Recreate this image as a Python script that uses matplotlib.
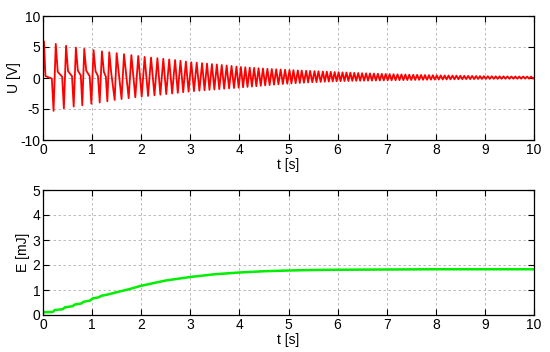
import matplotlib
matplotlib.use("Agg")
import matplotlib.pyplot as plt

plt.rcParams['font.family'] = ['Liberation Sans', 'DejaVu Sans']
plt.rcParams['axes.unicode_minus'] = False

# ---- Voltage U(t): extrema ----
peak_t = [0.02, 0.26, 0.47, 0.67, 0.84, 1.03, 1.20, 1.35, 1.50, 1.65, 1.80, 1.94,
          2.07, 2.20, 2.33, 2.45, 2.57, 2.69, 2.80, 2.91, 3.02, 3.13, 3.24, 3.34,
          3.44, 3.54, 3.64, 3.74, 3.84, 3.94, 4.03, 4.12, 4.21, 4.30, 4.39, 4.48,
          4.57, 4.66, 4.75, 4.84, 4.93, 5.02, 5.10, 5.19, 5.27, 5.36, 5.44, 5.53,
          5.61, 5.70, 5.78, 5.86, 5.94, 6.02, 6.10, 6.18, 6.26, 6.34, 6.42, 6.50,
          6.58, 6.66, 6.74, 6.82, 6.90, 6.98, 7.06, 7.14, 7.22, 7.30, 7.38, 7.46,
          7.54, 7.62, 7.70, 7.78, 7.86, 7.94, 8.02, 8.10, 8.18, 8.26, 8.34, 8.42,
          8.50, 8.58, 8.66, 8.74, 8.82, 8.90, 8.98, 9.06, 9.14, 9.22, 9.30, 9.38,
          9.46, 9.54, 9.62, 9.70, 9.78, 9.86, 9.94]
peak_u = [5.9, 5.5, 5.2, 4.9, 4.7, 4.5, 4.3, 4.15, 4.0, 3.85, 3.7, 3.55,
          3.4, 3.3, 3.2, 3.1, 3.0, 2.9, 2.78, 2.66, 2.55, 2.48, 2.4, 2.33,
          2.25, 2.18, 2.1, 2.02, 1.95, 1.85, 1.78, 1.73, 1.68, 1.63, 1.58, 1.53,
          1.49, 1.45, 1.41, 1.37, 1.33, 1.30, 1.27, 1.23, 1.2, 1.17, 1.14, 1.11,
          1.08, 1.05, 1.02, 0.99, 0.96, 0.93, 0.9, 0.88, 0.86, 0.83, 0.81, 0.78,
          0.76, 0.74, 0.72, 0.69, 0.67, 0.65, 0.63, 0.61, 0.59, 0.57, 0.56, 0.54,
          0.52, 0.51, 0.49, 0.48, 0.46, 0.45, 0.43, 0.42, 0.41, 0.4, 0.39, 0.38,
          0.36, 0.35, 0.34, 0.33, 0.32, 0.31, 0.3, 0.29, 0.29, 0.28, 0.27, 0.27,
          0.26, 0.25, 0.25, 0.24, 0.24, 0.23, 0.23]
trough_t = [0.215, 0.425, 0.625, 0.80, 0.985, 1.155, 1.31, 1.46, 1.60, 1.745, 1.88,
            2.01, 2.14, 2.27, 2.39, 2.51, 2.63, 2.745, 2.855, 2.965, 3.075, 3.185,
            3.29, 3.39, 3.49, 3.59, 3.69, 3.79, 3.89, 3.985, 4.075, 4.165, 4.255,
            4.345, 4.435, 4.525, 4.615, 4.705, 4.795, 4.885, 4.975, 5.06, 5.145,
            5.23, 5.315, 5.40, 5.485, 5.57, 5.655, 5.74, 5.82, 5.90, 5.98, 6.06,
            6.14, 6.22, 6.30, 6.38, 6.46, 6.54, 6.62, 6.70, 6.78, 6.86, 6.94, 7.02,
            7.10, 7.18, 7.26, 7.34, 7.42, 7.50, 7.58, 7.66, 7.74, 7.82, 7.90, 7.98,
            8.06, 8.14, 8.22, 8.30, 8.38, 8.46, 8.54, 8.62, 8.70, 8.78, 8.86, 8.94,
            9.02, 9.10, 9.18, 9.26, 9.34, 9.42, 9.50, 9.58, 9.66, 9.74, 9.82, 9.90,
            9.98]
trough_u = [-5.3, -4.9, -4.6, -4.4, -4.15, -3.95, -3.75, -3.55, -3.4, -3.25, -3.12,
            -3.0, -2.9, -2.8, -2.7, -2.6, -2.5, -2.4, -2.3, -2.2, -2.12, -2.05,
            -1.98, -1.92, -1.86, -1.8, -1.74, -1.68, -1.62, -1.56, -1.5, -1.44, -1.38,
            -1.32, -1.26, -1.2, -1.14, -1.08, -1.02, -0.97, -0.92, -0.88, -0.84,
            -0.8, -0.76, -0.72, -0.69, -0.66, -0.63, -0.6, -0.57, -0.55, -0.53, -0.51,
            -0.49, -0.48, -0.47, -0.46, -0.45, -0.44, -0.43, -0.42, -0.41, -0.40, -0.39, -0.38,
            -0.37, -0.36, -0.35, -0.34, -0.33, -0.32, -0.31, -0.30, -0.29, -0.28, -0.27, -0.26,
            -0.25, -0.24, -0.23, -0.22, -0.21, -0.20, -0.19, -0.18, -0.18, -0.17, -0.16, -0.16,
            -0.15, -0.15, -0.14, -0.14, -0.13, -0.13, -0.13, -0.12, -0.12, -0.12, -0.11, -0.11,
            -0.11]
# shoulders of the early relaxation pulses
knee_t = [0.0, 0.05, 0.18, 0.30, 0.39, 0.51, 0.59, 0.71, 0.77, 0.88, 0.95,
          1.07, 1.12, 1.24, 1.28, 1.39, 10.0]
knee_u = [0.0, 0.3, -0.1, 1.0, 0.2, 1.1, 0.3, 1.2, 0.4, 1.2, 0.3,
          1.1, 0.3, 1.0, 0.2, 0.8, 0.05]

# ---- Energy E(t) ----
e_t = [0.0, 0.20, 0.24, 0.40, 0.45, 0.60, 0.65, 0.78, 0.83, 0.96, 1.01, 1.14,
       1.19, 1.30, 1.50, 1.75, 2.0, 2.5, 3.0, 3.5, 4.0, 4.5, 5.0, 5.5, 6.0,
       7.0, 8.0, 9.0, 10.0]
e_v = [0.11, 0.12, 0.2, 0.23, 0.31, 0.35, 0.42, 0.46, 0.53, 0.58, 0.66, 0.71,
       0.77, 0.81, 0.91, 1.03, 1.17, 1.38, 1.52, 1.63, 1.7, 1.75, 1.78, 1.8, 1.81,
       1.82, 1.83, 1.83, 1.83]

pts = sorted(list(zip(peak_t, peak_u)) + list(zip(trough_t, trough_u)) +
             list(zip(knee_t, knee_u)))
u_t = [p[0] for p in pts]
u_v = [p[1] for p in pts]

fig = plt.figure(figsize=(5.5, 3.52), dpi=100)
ax1 = fig.add_axes([43/550, 1-140/352, 491/550, 124/352])
ax2 = fig.add_axes([43/550, 1-315/352, 491/550, 125/352])

ax1.plot(u_t, u_v, color='#ff0000', lw=1.3)
ax2.plot(e_t, e_v, color='#00ee00', lw=1.8)

for ax in (ax1, ax2):
    ax.set_xlim(0, 10)
    ax.set_xticks(range(0, 11))
    ax.grid(True, color='#b0b0b0', linestyle=(0, (3, 3)), linewidth=0.6)
    ax.tick_params(direction='in', top=True, right=True, labelsize=10,
                   length=4, width=0.8, pad=2)
    for s in ax.spines.values():
        s.set_linewidth(0.9)
    ax.set_xlabel('t [s]', fontsize=10, labelpad=1)

ax1.set_ylim(-10, 10)
ax1.set_yticks([-10, -5, 0, 5, 10])
ax1.set_ylabel('U [V]', fontsize=10)
ax1.yaxis.set_label_coords(-0.045, 0.5)
ax2.set_ylim(0, 5)
ax2.set_yticks([0, 1, 2, 3, 4, 5])
ax2.set_ylabel('E [mJ]', fontsize=10)
ax2.yaxis.set_label_coords(-0.027, 0.5)

fig.savefig('out.png', dpi=100)
